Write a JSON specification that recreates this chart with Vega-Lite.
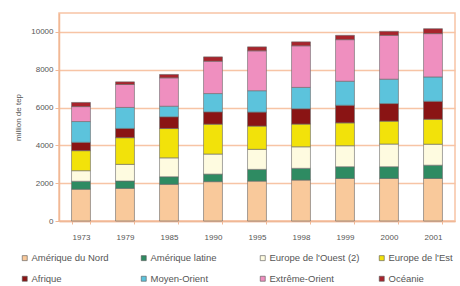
{
  "$schema": "https://vega.github.io/schema/vega-lite/v6.json",
  "width": 396,
  "height": 208,
  "autosize": {"type": "none"},
  "padding": {"left": 59, "top": 13, "right": 5, "bottom": 65},
  "background": "white",
  "config": {
    "font": "Liberation Sans",
    "view": {"stroke": "#f7c4a5", "strokeWidth": 1.5},
    "legend": {"padding": 0}
  },
  "data": {
    "values": [
      {"annee": "1973", "region": "Amérique du Nord", "ordre": 1, "valeur": 1680},
      {"annee": "1973", "region": "Amérique latine", "ordre": 2, "valeur": 420},
      {"annee": "1973", "region": "Europe de l'Ouest (2)", "ordre": 3, "valeur": 560},
      {"annee": "1973", "region": "Europe de l'Est", "ordre": 4, "valeur": 1060},
      {"annee": "1973", "region": "Afrique", "ordre": 5, "valeur": 440},
      {"annee": "1973", "region": "Moyen-Orient", "ordre": 6, "valeur": 1100},
      {"annee": "1973", "region": "Extrême-Orient", "ordre": 7, "valeur": 790},
      {"annee": "1973", "region": "Océanie", "ordre": 8, "valeur": 220},
      {"annee": "1979", "region": "Amérique du Nord", "ordre": 1, "valeur": 1725},
      {"annee": "1979", "region": "Amérique latine", "ordre": 2, "valeur": 390},
      {"annee": "1979", "region": "Europe de l'Ouest (2)", "ordre": 3, "valeur": 880},
      {"annee": "1979", "region": "Europe de l'Est", "ordre": 4, "valeur": 1410},
      {"annee": "1979", "region": "Afrique", "ordre": 5, "valeur": 490},
      {"annee": "1979", "region": "Moyen-Orient", "ordre": 6, "valeur": 1110},
      {"annee": "1979", "region": "Extrême-Orient", "ordre": 7, "valeur": 1215},
      {"annee": "1979", "region": "Océanie", "ordre": 8, "valeur": 140},
      {"annee": "1985", "region": "Amérique du Nord", "ordre": 1, "valeur": 1940},
      {"annee": "1985", "region": "Amérique latine", "ordre": 2, "valeur": 400},
      {"annee": "1985", "region": "Europe de l'Ouest (2)", "ordre": 3, "valeur": 1000},
      {"annee": "1985", "region": "Europe de l'Est", "ordre": 4, "valeur": 1550},
      {"annee": "1985", "region": "Afrique", "ordre": 5, "valeur": 620},
      {"annee": "1985", "region": "Moyen-Orient", "ordre": 6, "valeur": 560},
      {"annee": "1985", "region": "Extrême-Orient", "ordre": 7, "valeur": 1500},
      {"annee": "1985", "region": "Océanie", "ordre": 8, "valeur": 180},
      {"annee": "1990", "region": "Amérique du Nord", "ordre": 1, "valeur": 2080},
      {"annee": "1990", "region": "Amérique latine", "ordre": 2, "valeur": 400},
      {"annee": "1990", "region": "Europe de l'Ouest (2)", "ordre": 3, "valeur": 1060},
      {"annee": "1990", "region": "Europe de l'Est", "ordre": 4, "valeur": 1580},
      {"annee": "1990", "region": "Afrique", "ordre": 5, "valeur": 650},
      {"annee": "1990", "region": "Moyen-Orient", "ordre": 6, "valeur": 970},
      {"annee": "1990", "region": "Extrême-Orient", "ordre": 7, "valeur": 1710},
      {"annee": "1990", "region": "Océanie", "ordre": 8, "valeur": 230},
      {"annee": "1995", "region": "Amérique du Nord", "ordre": 1, "valeur": 2110},
      {"annee": "1995", "region": "Amérique latine", "ordre": 2, "valeur": 620},
      {"annee": "1995", "region": "Europe de l'Ouest (2)", "ordre": 3, "valeur": 1060},
      {"annee": "1995", "region": "Europe de l'Est", "ordre": 4, "valeur": 1230},
      {"annee": "1995", "region": "Afrique", "ordre": 5, "valeur": 740},
      {"annee": "1995", "region": "Moyen-Orient", "ordre": 6, "valeur": 1130},
      {"annee": "1995", "region": "Extrême-Orient", "ordre": 7, "valeur": 2110},
      {"annee": "1995", "region": "Océanie", "ordre": 8, "valeur": 210},
      {"annee": "1998", "region": "Amérique du Nord", "ordre": 1, "valeur": 2165},
      {"annee": "1998", "region": "Amérique latine", "ordre": 2, "valeur": 620},
      {"annee": "1998", "region": "Europe de l'Ouest (2)", "ordre": 3, "valeur": 1140},
      {"annee": "1998", "region": "Europe de l'Est", "ordre": 4, "valeur": 1200},
      {"annee": "1998", "region": "Afrique", "ordre": 5, "valeur": 810},
      {"annee": "1998", "region": "Moyen-Orient", "ordre": 6, "valeur": 1130},
      {"annee": "1998", "region": "Extrême-Orient", "ordre": 7, "valeur": 2200},
      {"annee": "1998", "region": "Océanie", "ordre": 8, "valeur": 210},
      {"annee": "1999", "region": "Amérique du Nord", "ordre": 1, "valeur": 2250},
      {"annee": "1999", "region": "Amérique latine", "ordre": 2, "valeur": 620},
      {"annee": "1999", "region": "Europe de l'Ouest (2)", "ordre": 3, "valeur": 1110},
      {"annee": "1999", "region": "Europe de l'Est", "ordre": 4, "valeur": 1210},
      {"annee": "1999", "region": "Afrique", "ordre": 5, "valeur": 930},
      {"annee": "1999", "region": "Moyen-Orient", "ordre": 6, "valeur": 1270},
      {"annee": "1999", "region": "Extrême-Orient", "ordre": 7, "valeur": 2200},
      {"annee": "1999", "region": "Océanie", "ordre": 8, "valeur": 230},
      {"annee": "2000", "region": "Amérique du Nord", "ordre": 1, "valeur": 2250},
      {"annee": "2000", "region": "Amérique latine", "ordre": 2, "valeur": 620},
      {"annee": "2000", "region": "Europe de l'Ouest (2)", "ordre": 3, "valeur": 1200},
      {"annee": "2000", "region": "Europe de l'Est", "ordre": 4, "valeur": 1210},
      {"annee": "2000", "region": "Afrique", "ordre": 5, "valeur": 930},
      {"annee": "2000", "region": "Moyen-Orient", "ordre": 6, "valeur": 1290},
      {"annee": "2000", "region": "Extrême-Orient", "ordre": 7, "valeur": 2320},
      {"annee": "2000", "region": "Océanie", "ordre": 8, "valeur": 210},
      {"annee": "2001", "region": "Amérique du Nord", "ordre": 1, "valeur": 2250},
      {"annee": "2001", "region": "Amérique latine", "ordre": 2, "valeur": 700},
      {"annee": "2001", "region": "Europe de l'Ouest (2)", "ordre": 3, "valeur": 1110},
      {"annee": "2001", "region": "Europe de l'Est", "ordre": 4, "valeur": 1320},
      {"annee": "2001", "region": "Afrique", "ordre": 5, "valeur": 950},
      {"annee": "2001", "region": "Moyen-Orient", "ordre": 6, "valeur": 1290},
      {"annee": "2001", "region": "Extrême-Orient", "ordre": 7, "valeur": 2290},
      {"annee": "2001", "region": "Océanie", "ordre": 8, "valeur": 260}
    ]
  },
  "mark": {"type": "bar", "stroke": "#6a6a6a", "strokeWidth": 0.6},
  "encoding": {
    "x": {
      "field": "annee",
      "type": "nominal",
      "scale": {"paddingInner": 0.57, "paddingOuter": 0.285},
      "axis": {
        "title": null,
        "labelAngle": 0,
        "labelFontSize": 8,
        "labelColor": "#555555",
        "labelPadding": 9,
        "tickBand": "extent",
        "tickColor": "#f0b896",
        "tickSize": 3,
        "domainColor": "#f0b896",
        "domainWidth": 1.5,
        "grid": false
      }
    },
    "y": {
      "field": "valeur",
      "type": "quantitative",
      "stack": "zero",
      "scale": {"domain": [0, 11000], "nice": false},
      "axis": {
        "title": "million de tep",
        "titleFontSize": 8,
        "titleFontWeight": "normal",
        "titleColor": "#555555",
        "titlePadding": 8,
        "values": [0, 2000, 4000, 6000, 8000, 10000],
        "format": "d",
        "labelFontSize": 8,
        "labelColor": "#555555",
        "labelPadding": 2,
        "tickColor": "#f0b896",
        "tickSize": 4,
        "domainColor": "#f0b896",
        "domainWidth": 1.5,
        "gridColor": "#f7c4a5",
        "gridWidth": 1.5,
        "gridOpacity": 1
      }
    },
    "order": {"field": "ordre", "type": "quantitative", "sort": "ascending"},
    "color": {
      "field": "region",
      "type": "nominal",
      "scale": {
        "domain": ["Amérique du Nord", "Amérique latine", "Europe de l'Ouest (2)", "Europe de l'Est", "Afrique", "Moyen-Orient", "Extrême-Orient", "Océanie"],
        "range": ["#f9c99b", "#2e8b62", "#fefbe0", "#f2e20a", "#8a1414", "#5cc3dc", "#ef8fbf", "#a8242c"]
      },
      "legend": {
        "title": null,
        "orient": "none",
        "legendX": -39,
        "legendY": 240,
        "direction": "horizontal",
        "columns": 4,
        "gridAlign": "all",
        "columnPadding": 17,
        "rowPadding": 10,
        "symbolType": "square",
        "symbolSize": 25,
        "symbolStrokeColor": "#555555",
        "symbolStrokeWidth": 0.6,
        "labelFontSize": 9.5,
        "labelColor": "#555555",
        "labelOffset": 2,
        "labelLimit": 200
      }
    }
  }
}
